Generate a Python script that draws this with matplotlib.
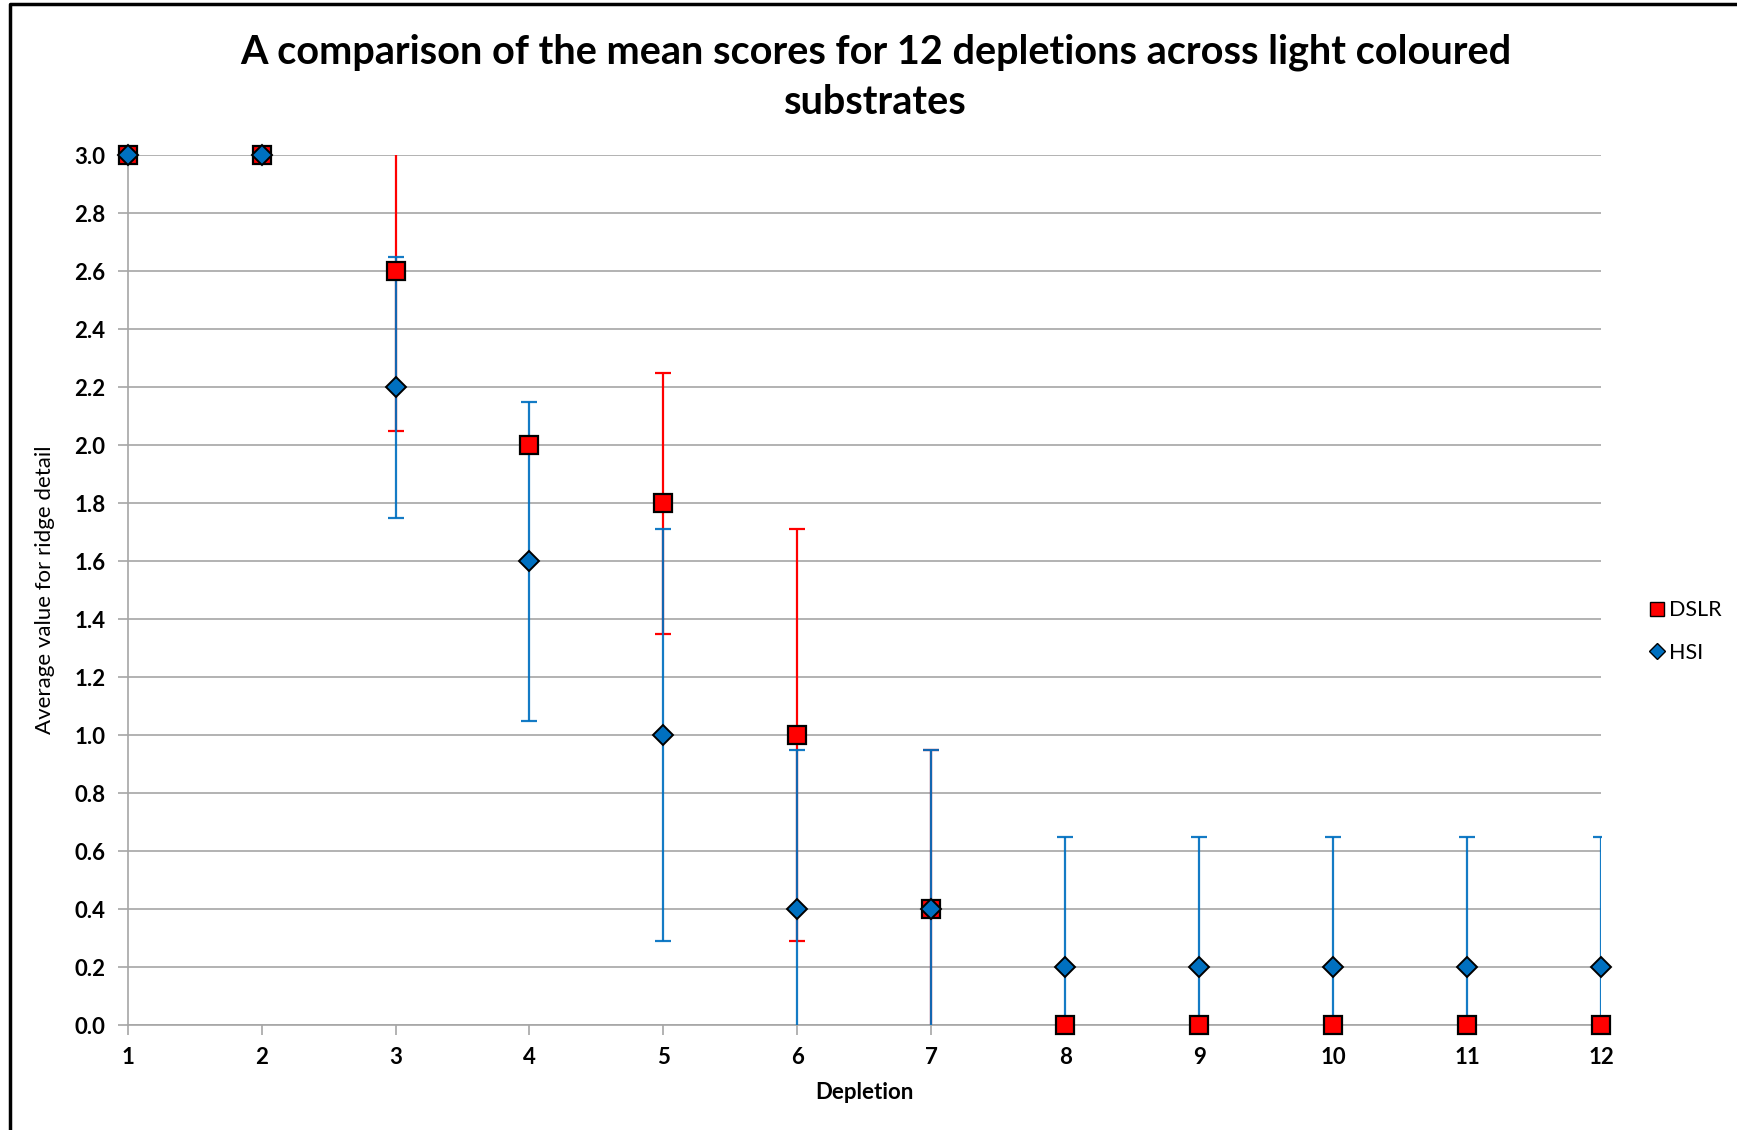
import matplotlib
matplotlib.use("Agg")
import matplotlib.pyplot as plt
from matplotlib.lines import Line2D

# values
depletion = [1, 2, 3, 4, 5, 6, 7, 8, 9, 10, 11, 12]
dslr_mean = [3.0, 3.0, 2.6, 2.0, 1.8, 1.0, 0.4, 0.0, 0.0, 0.0, 0.0, 0.0]
dslr_err = [0.0, 0.0, 0.55, 0.0, 0.45, 0.71, 0.55, 0.0, 0.0, 0.0, 0.0, 0.0]
hsi_mean = [3.0, 3.0, 2.2, 1.6, 1.0, 0.4, 0.4, 0.2, 0.2, 0.2, 0.2, 0.2]
hsi_err = [0.0, 0.0, 0.45, 0.55, 0.71, 0.55, 0.55, 0.45, 0.45, 0.45, 0.45, 0.45]
y_ticks = [0.0, 0.2, 0.4, 0.6, 0.8, 1.0, 1.2, 1.4, 1.6, 1.8, 2.0, 2.2, 2.4, 2.6, 2.8, 3.0]

RED = "#FF0000"
BLUE = "#0070C0"
GRID = "#A6A6A6"
FONT = "Lato"

plt.rcParams["font.family"] = [FONT, "DejaVu Sans"]

fig = plt.figure(figsize=(17.37, 11.30), dpi=100)
ax = fig.add_axes([0.0735, 0.0929, 0.9217 - 0.0735, 0.8626 - 0.0929])

# error bars (clipped to the plot area like the original)
ax.errorbar(depletion, dslr_mean, yerr=dslr_err, fmt="none", ecolor=RED,
            elinewidth=1.6, capsize=6, capthick=1.6, zorder=2)
ax.errorbar(depletion, hsi_mean, yerr=hsi_err, fmt="none", ecolor=BLUE,
            elinewidth=1.6, capsize=6, capthick=1.6, zorder=3, alpha=0.92)

# markers
ax.plot(depletion, dslr_mean, linestyle="none", marker="s", markersize=12.5,
        markerfacecolor=RED, markeredgecolor="black", markeredgewidth=1.6,
        zorder=4, clip_on=False)
ax.plot(depletion, hsi_mean, linestyle="none", marker="D", markersize=9.8,
        markerfacecolor=BLUE, markeredgecolor="black", markeredgewidth=1.4,
        zorder=5, clip_on=False)

ax.set_xlim(1, 12)
ax.set_ylim(0, 3.0)
ax.set_xticks(depletion)
ax.set_yticks(y_ticks)
ax.set_yticklabels([f"{v:.1f}" for v in y_ticks])
ax.yaxis.grid(True, color=GRID, linewidth=1.2)
ax.set_axisbelow(True)

for s in ["top", "right"]:
    ax.spines[s].set_visible(False)
for s in ["left", "bottom"]:
    ax.spines[s].set_color(GRID)
    ax.spines[s].set_linewidth(1.2)

ax.tick_params(axis="both", direction="out", length=7, width=1.2, color=GRID,
               labelsize=16)
ax.tick_params(axis="y", pad=9)
ax.tick_params(axis="x", pad=9)
for lab in ax.get_xticklabels() + ax.get_yticklabels():
    lab.set_fontweight("bold")

ax.set_xlabel("Depletion", fontsize=16, fontweight="bold", labelpad=10)
ax.set_ylabel("Average value for ridge detail", fontsize=16, labelpad=14)

fig.text(0.504, 0.9315, "A comparison of the mean scores for 12 depletions across light coloured\nsubstrates",
         ha="center", va="center", fontsize=28.5, fontweight="bold", linespacing=1.45)

handles = [
    Line2D([], [], linestyle="none", marker="s", markersize=10.5,
           markerfacecolor=RED, markeredgecolor="black", markeredgewidth=1.0),
    Line2D([], [], linestyle="none", marker="D", markersize=8,
           markerfacecolor=BLUE, markeredgecolor="black", markeredgewidth=1.0),
]
fig.legend(handles, ["DSLR", "HSI"], loc="center left",
           bbox_to_anchor=(0.939, 0.441), frameon=False, fontsize=15.5,
           handlelength=0.6, handletextpad=0.25, labelspacing=1.05)

# outer frame: top and left edges only are visible in the reference
fig.add_artist(Line2D([0.006, 0.006, 1.0], [0.0, 0.9965, 0.9965],
                      transform=fig.transFigure, color="black", linewidth=2.5))

fig.savefig("out.png", dpi=100, facecolor="white")
